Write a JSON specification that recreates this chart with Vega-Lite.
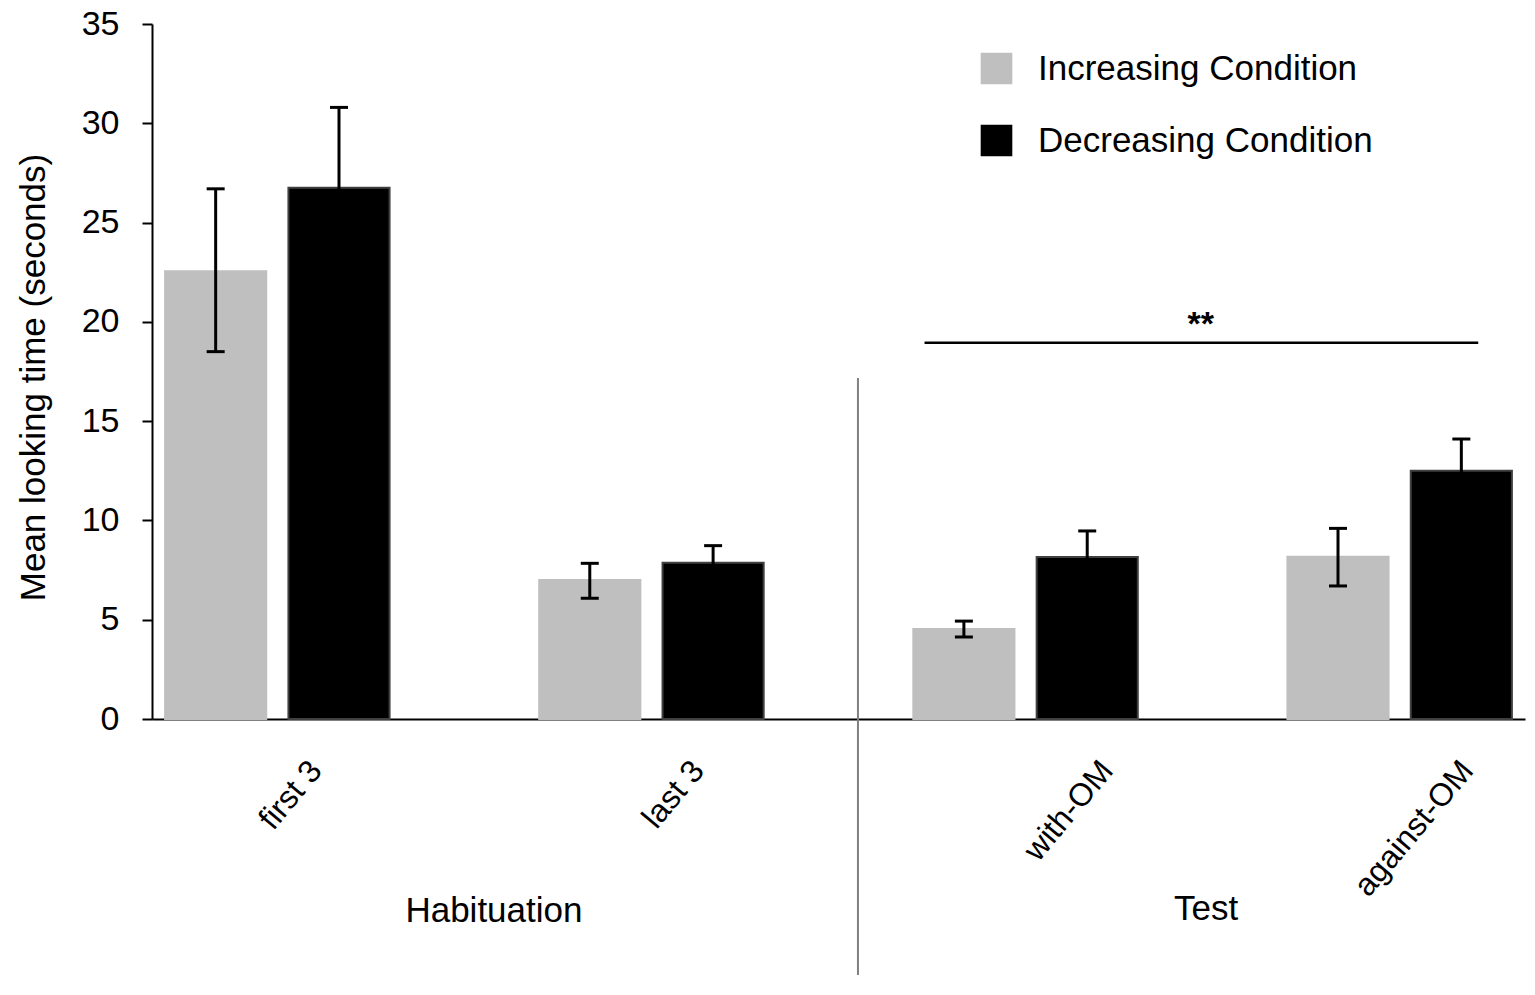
{
  "$schema": "https://vega.github.io/schema/vega-lite/v6.json",
  "description": "Mean looking time by trial and condition",
  "width": 1373,
  "height": 695,
  "autosize": {"type": "none"},
  "padding": {"left": 152, "top": 24, "right": 10, "bottom": 276},
  "background": "white",
  "config": {
    "view": {"stroke": null},
    "font": "Liberation Sans",
    "axis": {"grid": false, "domainColor": "black", "domainWidth": 2, "labelColor": "black", "titleColor": "black"}
  },
  "datasets": {
    "bars": [
      {"trial": "first 3", "condition": "Increasing Condition", "mean": 22.55, "lo": 18.5, "hi": 26.7},
      {"trial": "first 3", "condition": "Decreasing Condition", "mean": 26.75, "lo": 22.7, "hi": 30.8},
      {"trial": "last 3", "condition": "Increasing Condition", "mean": 7.0, "lo": 6.08, "hi": 7.84},
      {"trial": "last 3", "condition": "Decreasing Condition", "mean": 7.87, "lo": 7.0, "hi": 8.73},
      {"trial": "with-OM", "condition": "Increasing Condition", "mean": 4.53, "lo": 4.13, "hi": 4.93},
      {"trial": "with-OM", "condition": "Decreasing Condition", "mean": 8.16, "lo": 6.85, "hi": 9.47},
      {"trial": "against-OM", "condition": "Increasing Condition", "mean": 8.17, "lo": 6.7, "hi": 9.6},
      {"trial": "against-OM", "condition": "Decreasing Condition", "mean": 12.5, "lo": 10.9, "hi": 14.1}
    ],
    "separator": [
      {"trial": "last 3", "top": 17.17, "bottom": -12.89}
    ],
    "signif": [
      {"from": "with-OM", "to": "against-OM", "level": 18.95, "star_y": 19.85, "label": "**"}
    ],
    "habituation": [
      {"trial": "first 3", "name": "Habituation", "pos": -10.22}
    ],
    "test": [
      {"trial": "with-OM", "name": "Test", "pos": -10.12}
    ]
  },
  "layer": [
    {
      "data": {"name": "bars"},
      "mark": {"type": "bar", "strokeWidth": 2},
      "encoding": {
        "x": {
          "field": "trial", "type": "nominal",
          "scale": {"domain": ["first 3", "last 3", "with-OM", "against-OM"], "paddingInner": 0.4, "paddingOuter": 0.035},
          "axis": {
            "title": null, "ticks": false, "labelAngle": -50, "labelAlign": "right", "labelBaseline": "top",
            "labelFontSize": 32, "labelPadding": 36,
            "labelOffset": {
              "condition": [
                {"test": "datum.value === 'first 3'", "value": 27},
                {"test": "datum.value === 'last 3'", "value": 35},
                {"test": "datum.value === 'with-OM'", "value": 70}
              ],
              "value": 56
            }
          }
        },
        "xOffset": {
          "field": "condition", "type": "nominal",
          "scale": {"domain": ["Increasing Condition", "Decreasing Condition"], "paddingInner": 0.18, "paddingOuter": 0}
        },
        "y": {
          "field": "mean", "type": "quantitative",
          "scale": {"domain": [0, 35], "nice": false},
          "axis": {
            "title": "Mean looking time (seconds)", "titleFontSize": 35, "titleFontWeight": "normal", "titlePadding": 30,
            "titleY": 353,
            "values": [0, 5, 10, 15, 20, 25, 30, 35], "labelFontSize": 34, "labelPadding": 23,
            "tickSize": 10, "tickWidth": 2, "tickColor": "black"
          }
        },
        "color": {
          "field": "condition", "type": "nominal",
          "scale": {"domain": ["Increasing Condition", "Decreasing Condition"], "range": ["#bfbfbf", "#000000"]},
          "legend": {
            "title": null, "orient": "none", "legendX": 827, "legendY": 27,
            "symbolType": "square", "symbolSize": 1000, "symbolStrokeWidth": 0, "symbolOpacity": 1,
            "labelFontSize": 35, "labelOffset": 24, "rowPadding": 36, "labelColor": "black", "labelLimit": 500
          }
        },
        "stroke": {
          "field": "condition", "type": "nominal",
          "scale": {"domain": ["Increasing Condition", "Decreasing Condition"], "range": ["#bfbfbf", "#404040"]},
          "legend": null
        }
      }
    },
    {
      "data": {"name": "bars"},
      "mark": {"type": "rule", "color": "black", "strokeWidth": 3},
      "encoding": {
        "x": {"field": "trial", "type": "nominal"},
        "xOffset": {"field": "condition", "type": "nominal"},
        "y": {"field": "lo", "type": "quantitative"},
        "y2": {"field": "hi"}
      }
    },
    {
      "data": {"name": "bars"},
      "mark": {"type": "tick", "color": "black", "size": 18, "thickness": 3, "opacity": 1},
      "encoding": {
        "x": {"field": "trial", "type": "nominal"},
        "xOffset": {"field": "condition", "type": "nominal"},
        "y": {"field": "lo", "type": "quantitative"}
      }
    },
    {
      "data": {"name": "bars"},
      "mark": {"type": "tick", "color": "black", "size": 18, "thickness": 3, "opacity": 1},
      "encoding": {
        "x": {"field": "trial", "type": "nominal"},
        "xOffset": {"field": "condition", "type": "nominal"},
        "y": {"field": "hi", "type": "quantitative"}
      }
    },
    {
      "data": {"name": "separator"},
      "mark": {"type": "rule", "color": "#808080", "strokeWidth": 2},
      "encoding": {
        "x": {"field": "trial", "type": "nominal", "bandPosition": 1.42},
        "y": {"field": "top", "type": "quantitative"},
        "y2": {"field": "bottom"}
      }
    },
    {
      "data": {"name": "signif"},
      "mark": {"type": "rule", "color": "black", "strokeWidth": 2.5},
      "encoding": {
        "x": {"field": "from", "type": "nominal", "bandPosition": 0.05},
        "x2": {"field": "to", "bandPosition": 0.85},
        "y": {"field": "level", "type": "quantitative"}
      }
    },
    {
      "data": {"name": "signif"},
      "mark": {"type": "text", "fontSize": 34, "fontWeight": "bold", "baseline": "middle", "align": "center", "color": "black"},
      "encoding": {
        "x": {"field": "from", "type": "nominal", "bandPosition": 1.28},
        "y": {"field": "star_y", "type": "quantitative"},
        "text": {"field": "label"}
      }
    },
    {
      "data": {"name": "habituation"},
      "mark": {"type": "text", "fontSize": 35, "baseline": "alphabetic", "align": "center", "color": "black"},
      "encoding": {
        "x": {"field": "trial", "type": "nominal", "bandPosition": 1.465},
        "y": {"field": "pos", "type": "quantitative"},
        "text": {"field": "name"}
      }
    },
    {
      "data": {"name": "test"},
      "mark": {"type": "text", "fontSize": 35, "baseline": "alphabetic", "align": "center", "color": "black"},
      "encoding": {
        "x": {"field": "trial", "type": "nominal", "bandPosition": 1.304},
        "y": {"field": "pos", "type": "quantitative"},
        "text": {"field": "name"}
      }
    }
  ]
}
